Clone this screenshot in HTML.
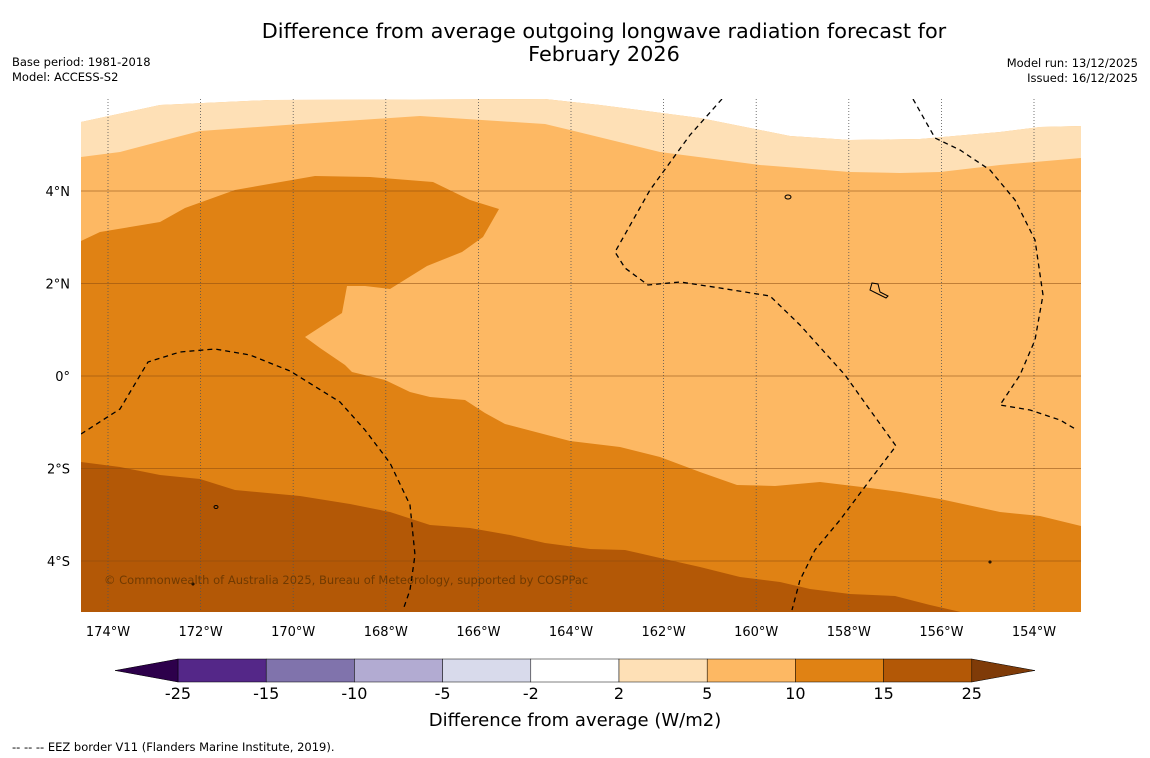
<!DOCTYPE html>
<html><head><meta charset="utf-8"><style>
body{margin:0;background:#fff;width:1150px;height:758px;overflow:hidden;font-family:"DejaVu Sans","Liberation Sans",sans-serif}
svg{position:absolute;left:0;top:0;font-family:"DejaVu Sans","Liberation Sans",sans-serif}
</style></head><body>
<svg width="1150" height="758">
<text x="604" y="38" font-size="20.8" text-anchor="middle">Difference from average outgoing longwave radiation forecast for</text>
<text x="604" y="61" font-size="20.8" text-anchor="middle">February 2026</text>
<text x="12" y="66" font-size="11.5">Base period: 1981-2018</text>
<text x="12" y="81" font-size="11.5">Model: ACCESS-S2</text>
<text x="1138" y="67" font-size="11.5" text-anchor="end">Model run: 13/12/2025</text>
<text x="1138" y="82" font-size="11.5" text-anchor="end">Issued: 16/12/2025</text>
<defs><clipPath id="mc"><rect x="81" y="99" width="1000" height="513"/></clipPath></defs>
<g clip-path="url(#mc)">
<rect x="81" y="99" width="1000" height="513" fill="#fdb863"/>
<path fill="#fff" d="M81 99 L81 122 160 105 270 100 545 99 600 105 700 118 740 126 790 136 850 140 920 139 1000 132 1040 127 1081 126 1081 99Z"/>
<path fill="#fee0b6" d="M81 122 L160 105 270 100 545 99 600 105 700 118 740 126 790 136 850 140 920 139 1000 132 1040 127 1081 126 1081 158 1000 165 940 172 900 173 850 172 760 165 660 152 570 130 545 124 420 116 300 124 200 131 120 152 81 157Z"/>
<path fill="#e08214" d="M81 241 L100 232 160 222 185 208 235 190 315 176 370 177 433 182 470 200 499 209 483 237 462 252 427 266 390 289 365 286 347 286 342 313 305 337 320 348 345 365 352 372 385 380 410 392 430 397 465 400 485 413 505 424 570 441 620 447 660 457 700 472 737 485 775 486 820 482 870 488 900 492 940 499 1000 512 1040 516 1081 526 1081 612 81 612Z"/>
<path fill="#b35806" d="M81 462 L120 467 160 475 200 479 235 490 300 496 350 504 390 512 430 525 470 528 510 535 545 543 590 549 625 550 660 558 700 567 740 577 780 582 810 589 850 594 895 596 930 605 965 613 81 613Z"/>
<g id="grid"></g>
<g fill="none" stroke="#000" stroke-width="1.3" stroke-dasharray="5,4">
<path d="M81 434 L120 409 148 362 180 352 215 349 250 355 290 371 340 402 365 430 390 463 410 505 415 555 410 590 403 610"/>
<path d="M722 99 L690 135 650 190 615 252 625 268 648 285 680 282 720 288 770 296 800 325 845 375 870 410 896 446 870 480 840 520 815 550 800 580 792 610"/>
<path d="M913 99 L935 138 960 150 990 170 1015 200 1035 240 1043 295 1035 340 1020 375 1000 405 1030 410 1060 420 1077 430"/>
</g>
<g fill="none" stroke="#000" stroke-width="1">
<ellipse cx="788" cy="197" rx="3" ry="2"/><path d="M872 283 L878 284 880 292 888 296 886 298 876 293 870 290Z"/>
<ellipse cx="216" cy="507" rx="2" ry="1.5"/><circle cx="193" cy="584" r="1"/><circle cx="990" cy="562" r="1"/>
</g>
<text x="104" y="584" font-size="11.5" fill="#5a3000" fill-opacity="0.75">© Commonwealth of Australia 2025, Bureau of Meteorology, supported by COSPPac</text>
</g>
<g id="axes"></g>
<g id="cbar"></g>
<text x="575" y="726" font-size="18" text-anchor="middle">Difference from average (W/m2)</text>
<text x="12" y="751" font-size="11.5">--  --  -- EEZ border V11 (Flanders Marine Institute, 2019).</text>
</svg>
<script>
const lonTicks=[-174,-172,-170,-168,-166,-164,-162,-160,-158,-156,-154];
const latTicks=[4,2,0,-2,-4];
const levels=[-25,-15,-10,-5,-2,2,5,10,15,25];
const colors=["#542788","#8073ac","#b2abd2","#d8daeb","#fff","#fee0b6","#fdb863","#e08214","#b35806"];
const extColors=["#2d004b","#7f3b08"];
const NS="http://www.w3.org/2000/svg";
const xOf=l=>108+(l+174)*46.3, yOf=a=>376-a*46.25;
function mk(t,a,p){const e=document.createElementNS(NS,t);for(const k in a)e.setAttribute(k,a[k]);p.appendChild(e);return e;}
const grid=document.getElementById('grid'),axes=document.getElementById('axes'),cb=document.getElementById('cbar');
lonTicks.forEach(l=>{const x=xOf(l);
const g=mk('line',{x1:x,x2:x,y1:99,y2:612,stroke:'#555','stroke-width':0.8,'stroke-dasharray':'1,2'},grid);


const t=mk('text',{x:x,y:636,'font-size':13,'text-anchor':'middle'},axes);t.textContent=Math.abs(l)+'°W';

});
latTicks.forEach(a=>{const y=yOf(a);
const g=mk('line',{x1:81,x2:1081,y1:y,y2:y,stroke:'#8a4a10','stroke-width':0.7,'stroke-opacity':0.7},grid);


const t=mk('text',{x:70,y:y+5,'font-size':13,'text-anchor':'end'},axes);t.textContent=a==0?'0°':Math.abs(a)+'°'+(a>0?'N':'S');

});
const cx=i=>178+i*88.2, cy0=659, ch=23;
colors.forEach((c,i)=>{const r=mk('rect',{x:cx(i),y:cy0,width:88.2,height:ch,fill:c,stroke:'#000','stroke-width':0.5},cb);

});
const lt=mk('polygon',{points:`${cx(0)},${cy0} 115,${cy0+ch/2} ${cx(0)},${cy0+ch}`,fill:extColors[0],stroke:'#000','stroke-width':0.5},cb);


const rt=mk('polygon',{points:`${cx(9)},${cy0} 1035,${cy0+ch/2} ${cx(9)},${cy0+ch}`,fill:extColors[1],stroke:'#000','stroke-width':0.5},cb);


levels.forEach((v,i)=>{const t=mk('text',{x:cx(i),y:699,'font-size':16,'text-anchor':'middle'},cb);t.textContent=v;

});
</script>
</body></html>
